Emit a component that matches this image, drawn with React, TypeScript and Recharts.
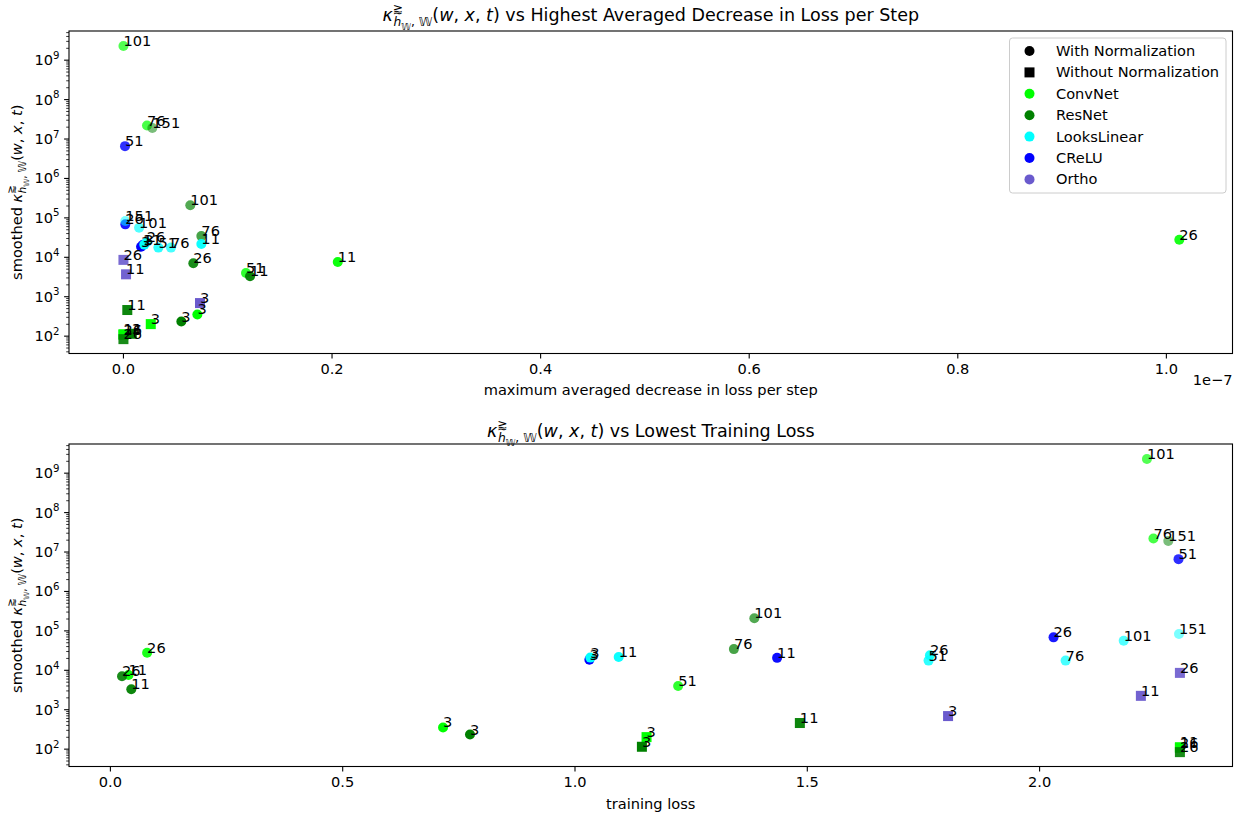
import { ScatterChart, Scatter, XAxis, YAxis } from 'recharts'

// one entry per trained network; series drawn in this order
const nets = [
  'ConvNet', 'ConvNet', 'ConvNet', 'ConvNet', 'ConvNet', 'ConvNet', 'ConvNet', 'ConvNet', 'ConvNet',
  'ResNet', 'ResNet', 'ResNet', 'ResNet', 'ResNet', 'ResNet', 'ResNet', 'ResNet', 'ResNet',
  'CReLU', 'CReLU', 'CReLU', 'CReLU',
  'LooksLinear', 'LooksLinear', 'LooksLinear', 'LooksLinear', 'LooksLinear', 'LooksLinear', 'LooksLinear',
  'Ortho', 'Ortho', 'Ortho',
]
const depths = [
  3, 11, 26, 51, 76, 101, 3, 11, 26,
  3, 11, 26, 76, 101, 151, 3, 11, 26,
  3, 11, 26, 51,
  3, 11, 26, 51, 76, 101, 151,
  3, 11, 26,
]
const normalized = [
  true, true, true, true, true, true, false, false, false,
  true, true, true, true, true, true, false, false, false,
  true, true, true, true,
  true, true, true, true, true, true, true,
  false, false, false,
]
const maxDecrease = [
  7.09e-9, 2.055e-8, 1.0124e-7, 1.175e-8, 2.26e-9, 0, 2.62e-9, 0, 0,
  5.55e-9, 1.214e-8, 6.7e-9, 7.47e-9, 6.41e-9, 2.77e-9, 8.0e-10, 3.7e-10, 0,
  1.69e-9, 1.88e-9, 1.8e-10, 1.5e-10,
  2.0e-9, 7.47e-9, 2.23e-9, 3.35e-9, 4.56e-9, 1.5e-9, 1.8e-10,
  7.34e-9, 2.5e-10, 0,
]
const lowestLoss = [
  0.716, 0.039, 0.079, 1.222, 2.245, 2.231, 1.154, 2.302, 2.302,
  0.774, 0.045, 0.025, 1.342, 1.386, 2.277, 1.144, 1.484, 2.302,
  1.031, 1.435, 2.03, 2.299,
  1.033, 1.094, 1.764, 1.761, 2.056, 2.181, 2.3,
  1.803, 2.218, 2.302,
]
const kappaAtDecrease = [
  355, 7.6e3, 2.8e4, 4.0e3, 2.2e7, 2.3e9, 202, 112, 108,
  235, 3.3e3, 7.1e3, 3.45e4, 2.1e5, 1.9e7, 115, 460, 84,
  1.85e4, 2.07e4, 6.85e4, 6.6e6,
  2.1e4, 2.17e4, 2.4e4, 1.76e4, 1.76e4, 5.6e4, 8.3e4,
  690, 3.7e3, 8.6e3,
]
const kappaAtLoss = [
  355, 7.6e3, 2.8e4, 4.0e3, 2.2e7, 2.3e9, 202, 112, 108,
  235, 3.3e3, 7.1e3, 3.45e4, 2.1e5, 1.9e7, 115, 460, 84,
  1.85e4, 2.07e4, 6.85e4, 6.6e6,
  2.1e4, 2.17e4, 2.4e4, 1.76e4, 1.76e4, 5.6e4, 8.3e4,
  690, 2.25e3, 8.6e3,
]

const seriesOrder = ['ConvNet', 'ResNet', 'CReLU', 'LooksLinear', 'Ortho']
const legendNets = ['ConvNet', 'ResNet', 'LooksLinear', 'CReLU', 'Ortho']
const netColor: Record<string, string> = {
  ConvNet: '#00ff00',
  ResNet: '#008000',
  LooksLinear: '#00ffff',
  CReLU: '#0000ff',
  Ortho: '#6a5acd',
}
const depthAlpha: Record<number, number> = { 3: 1, 11: 0.95, 26: 0.9, 51: 0.82, 76: 0.72, 101: 0.68, 151: 0.52 }

const decreaseTicks = [0, 2e-8, 4e-8, 6e-8, 8e-8, 1e-7]
const lossTicks = [0, 0.5, 1, 1.5, 2]
const majorDecades = [2, 3, 4, 5, 6, 7, 8, 9]

const FONT = 'DejaVu Sans'
const FS = 14.6
const TITLE_FS = 17.5
const Y_DOMAIN = [Math.pow(10, 1.56), Math.pow(10, 9.74)]
const yTicks: number[] = []
for (let e = 1; e <= 9; e++) {
  for (let m = 1; m < 10; m++) {
    const v = m * Math.pow(10, e)
    if (v >= Y_DOMAIN[0] && v <= Y_DOMAIN[1]) yTicks.push(v)
  }
}

type Pt = { x: number; y: number; net: string; depth: number; normalized: boolean }

const buildPoints = (xs: number[], ys: number[]): Pt[] =>
  nets.map((net, i) => ({ x: xs[i], y: ys[i], net, depth: depths[i], normalized: normalized[i] }))

const decreasePoints = buildPoints(maxDecrease, kappaAtDecrease)
const lossPoints = buildPoints(lowestLoss, kappaAtLoss)

const Marker = (props: any) => {
  const { cx, cy, payload } = props
  if (cx == null || cy == null) return null
  const color = netColor[payload.net]
  const op = depthAlpha[payload.depth] ?? 1
  if (payload.normalized) return <circle cx={cx} cy={cy} r={5} fill={color} fillOpacity={op} />
  return <rect x={cx - 5} y={cy - 5} width={10} height={10} fill={color} fillOpacity={op} />
}

const DepthLabel = (props: any) => {
  const { cx, cy, payload } = props
  if (cx == null || cy == null) return null
  return (
    <text x={cx} y={cy} fontSize={FS} fontFamily={FONT} fill="#000">
      {payload.depth}
    </text>
  )
}

const LogTick = (props: any) => {
  const { x, y, payload } = props
  const lg = Math.log10(payload.value)
  const e = Math.round(lg)
  const major = Math.abs(lg - e) < 1e-6 && majorDecades.includes(e)
  return (
    <g>
      <line x1={x} x2={x - (major ? 4.9 : 2.8)} y1={y} y2={y} stroke="#000" strokeWidth={major ? 1.1 : 0.8} />
      {major && (
        <text x={x - 9.5} y={y + 5} textAnchor="end" fontSize={FS} fontFamily={FONT} fill="#000">
          10
          <tspan dy={-6.5} fontSize={10.2}>
            {e}
          </tspan>
        </text>
      )}
    </g>
  )
}

const makeXTick = (fmt: (v: number) => string) => (props: any) => {
  const { x, y, payload } = props
  return (
    <g>
      <line x1={x} x2={x} y1={y} y2={y + 4.9} stroke="#000" strokeWidth={1.1} />
      <text x={x} y={y + 20} textAnchor="middle" fontSize={FS} fontFamily={FONT} fill="#000">
        {fmt(payload.value)}
      </text>
    </g>
  )
}

const kappaSpans = (fs: number) => [
  <tspan key="k" fontStyle="italic">κ</tspan>,
  <tspan key="sup" fontSize={fs * 0.7} dy={-fs * 0.45}>⪆</tspan>,
  <tspan key="h" fontSize={fs * 0.7} fontStyle="italic" dx={-fs * 0.55} dy={fs * 0.75}>h</tspan>,
  <tspan key="w1" fontSize={fs * 0.5} dy={fs * 0.2}>𝕎</tspan>,
  <tspan key="w2" fontSize={fs * 0.7} dy={-fs * 0.2}>, 𝕎</tspan>,
  <tspan key="p" dy={-fs * 0.3}>(</tspan>,
  <tspan key="w" fontStyle="italic">w</tspan>,
  <tspan key="c1">, </tspan>,
  <tspan key="x" fontStyle="italic">x</tspan>,
  <tspan key="c2">, </tspan>,
  <tspan key="t" fontStyle="italic">t</tspan>,
  <tspan key="q">)</tspan>,
]

function Panel({
  points,
  xDomain,
  xTicks,
  fmt,
  height,
  margin,
}: {
  points: Pt[]
  xDomain: number[]
  xTicks: number[]
  fmt: (v: number) => string
  height: number
  margin: { top: number; right: number; bottom: number; left: number }
}) {
  return (
    <ScatterChart width={1241} height={height} margin={margin}>
      <XAxis
        type="number"
        dataKey="x"
        domain={xDomain}
        allowDataOverflow
        ticks={xTicks}
        interval={0}
        height={40}
        axisLine={false}
        tickLine={false}
        tickSize={0}
        tickMargin={0}
        tick={makeXTick(fmt)}
      />
      <YAxis
        type="number"
        dataKey="y"
        scale="log"
        domain={Y_DOMAIN}
        allowDataOverflow
        ticks={yTicks}
        interval={0}
        width={69}
        axisLine={false}
        tickLine={false}
        tickSize={0}
        tickMargin={0}
        tick={<LogTick />}
      />
      {seriesOrder.map((net) => (
        <Scatter
          key={net}
          name={net}
          data={points.filter((p) => p.net === net)}
          shape={Marker}
          isAnimationActive={false}
        />
      ))}
      <Scatter name="labels" data={points} shape={DepthLabel} legendType="none" isAnimationActive={false} />
    </ScatterChart>
  )
}

export default function App() {
  const legendRows = [
    { label: 'With Normalization', color: '#000', square: false },
    { label: 'Without Normalization', color: '#000', square: true },
    ...legendNets.map((n) => ({ label: n, color: netColor[n], square: false })),
  ]
  return (
    <div style={{ position: 'absolute', left: 0, top: 0, width: 1241, height: 815, background: '#fff' }}>
      <Panel
        points={decreasePoints}
        xDomain={[-5.22e-9, 1.0634e-7]}
        xTicks={decreaseTicks}
        fmt={(v) => (v * 1e7).toFixed(1)}
        height={410}
        margin={{ top: 31, right: 8.5, bottom: 16.5, left: 0 }}
      />
      <Panel
        points={lossPoints}
        xDomain={[-0.0891, 2.4152]}
        xTicks={lossTicks}
        fmt={(v) => v.toFixed(1)}
        height={405}
        margin={{ top: 34, right: 8.5, bottom: 8.5, left: 0 }}
      />
      <svg
        width={1241}
        height={815}
        style={{ position: 'absolute', left: 0, top: 0, pointerEvents: 'none' }}
        fontFamily={FONT}
      >
        <rect x={69} y={31} width={1163.5} height={322.5} fill="none" stroke="#000" strokeWidth={1.1} />
        <rect x={69} y={444} width={1163.5} height={322.5} fill="none" stroke="#000" strokeWidth={1.1} />

        <text x={650.75} y={21} textAnchor="middle" fontSize={TITLE_FS} fill="#000">
          {kappaSpans(TITLE_FS)}
          <tspan> vs Highest Averaged Decrease in Loss per Step</tspan>
        </text>
        <text x={650.75} y={437} textAnchor="middle" fontSize={TITLE_FS} fill="#000">
          {kappaSpans(TITLE_FS)}
          <tspan> vs Lowest Training Loss</tspan>
        </text>

        <text x={650.75} y={395} textAnchor="middle" fontSize={FS} fill="#000">
          maximum averaged decrease in loss per step
        </text>
        <text x={1232.5} y={385} textAnchor="end" fontSize={FS} fill="#000">
          1e−7
        </text>
        <text x={650.75} y={808.5} textAnchor="middle" fontSize={FS} fill="#000">
          training loss
        </text>

        {[192.25, 605.25].map((cy) => (
          <text
            key={cy}
            x={0}
            y={0}
            transform={`translate(22, ${cy}) rotate(-90)`}
            textAnchor="middle"
            fontSize={FS}
            fill="#000"
          >
            <tspan>smoothed </tspan>
            {kappaSpans(FS)}
          </text>
        ))}

        <rect x={1009.5} y={38} width={216.5} height={155} rx={3} fill="#fff" fillOpacity={0.8} stroke="#cccccc" />
        {legendRows.map((r, i) => {
          const cy = 51 + i * 21.4
          return (
            <g key={r.label}>
              {r.square ? (
                <rect x={1024.5} y={cy - 5} width={10} height={10} fill={r.color} />
              ) : (
                <circle cx={1029.5} cy={cy} r={5} fill={r.color} />
              )}
              <text x={1056} y={cy + 5} fontSize={FS} fill="#000">
                {r.label}
              </text>
            </g>
          )
        })}
      </svg>
    </div>
  )
}
